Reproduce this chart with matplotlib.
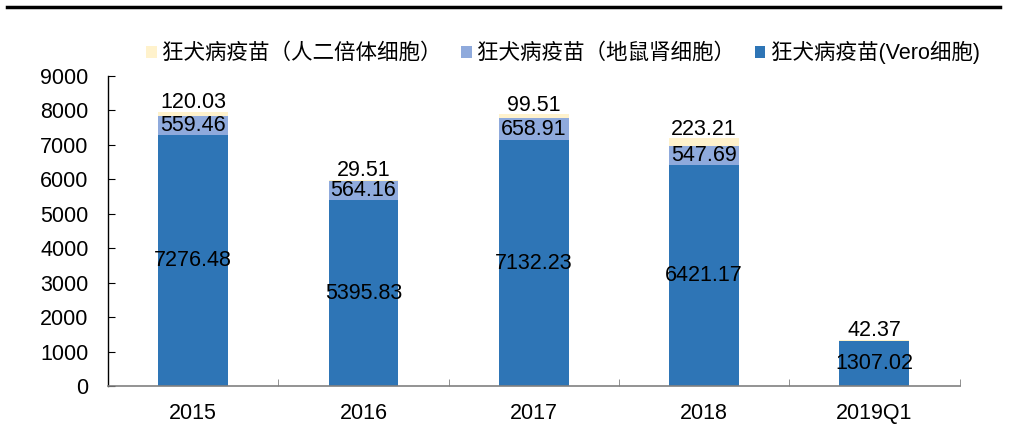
import numpy as np
import matplotlib.pyplot as plt
from matplotlib.lines import Line2D
from matplotlib.ticker import MultipleLocator

plt.rcParams['font.family'] = ['Liberation Sans', 'Noto Sans CJK SC', 'DejaVu Sans']

# data
years = ['2015', '2016', '2017', '2018', '2019Q1']
vero = [7276.48, 5395.83, 7132.23, 6421.17, 1307.02]
rat_kidney = [559.46, 564.16, 658.91, 547.69, 0]
human_diploid = [120.03, 29.51, 99.51, 223.21, 42.37]
names = ['狂犬病疫苗（人二倍体细胞）', '狂犬病疫苗（地鼠肾细胞）', '狂犬病疫苗(Vero细胞)']
colors = ['#FFF2CC', '#8FAADC', '#2E75B6']

x = np.arange(len(years))
vero = np.array(vero)
rat_kidney = np.array(rat_kidney)
human_diploid = np.array(human_diploid)

fig = plt.figure(figsize=(10.09, 4.32), dpi=100)
ax = fig.add_axes([0.107, 0.1065, 0.844, 0.7175])

w = 0.41
b1 = ax.bar(x, vero, w, color=colors[2], label=names[2])
b2 = ax.bar(x, rat_kidney, w, bottom=vero, color=colors[1], label=names[1])
b3 = ax.bar(x, human_diploid, w, bottom=vero + rat_kidney, color=colors[0], label=names[0])

fs = 15.5
for i in range(len(years)):
    ax.text(x[i], vero[i] / 2, f'{vero[i]:.2f}', ha='center', va='center', fontsize=fs)
    if rat_kidney[i] > 0:
        ax.text(x[i], vero[i] + rat_kidney[i] / 2, f'{rat_kidney[i]:.2f}',
                ha='center', va='center', fontsize=fs)
    top = vero[i] + rat_kidney[i] + human_diploid[i]
    ax.text(x[i], top - 40, f'{human_diploid[i]:.2f}', ha='center', va='bottom', fontsize=fs)

ax.set_ylim(0, 9000)
ax.set_xlim(-0.5, len(years) - 0.5)
ax.yaxis.set_major_locator(MultipleLocator(1000))
ax.set_xticks(x)
ax.set_xticklabels(years)
ax.set_xticks(np.arange(len(years) + 1) - 0.5, minor=True)
ax.tick_params(axis='x', which='major', length=0, labelsize=15.5, pad=12)
ax.tick_params(axis='x', which='minor', direction='in', length=5, color='#808080')
ax.tick_params(axis='y', direction='in', length=5, labelsize=15.5, pad=14)

for s in ['top', 'right']:
    ax.spines[s].set_visible(False)
ax.spines['bottom'].set_color('#808080')
ax.spines['bottom'].set_linewidth(1.2)
ax.spines['left'].set_linewidth(1.0)

handles = [b3, b2, b1]
ax.legend(handles, [names[0], names[1], names[2]], ncol=3, frameon=False,
          loc='lower left', bbox_to_anchor=(0.022, 0.975), fontsize=15.5,
          handlelength=0.5, handleheight=0.5, handletextpad=0.25, columnspacing=0.9)

fig.add_artist(Line2D([7 / 1009, 1000 / 1009], [1 - 7 / 432, 1 - 7 / 432],
                      color='black', linewidth=2.5))

fig.savefig('out.png', dpi=100)
